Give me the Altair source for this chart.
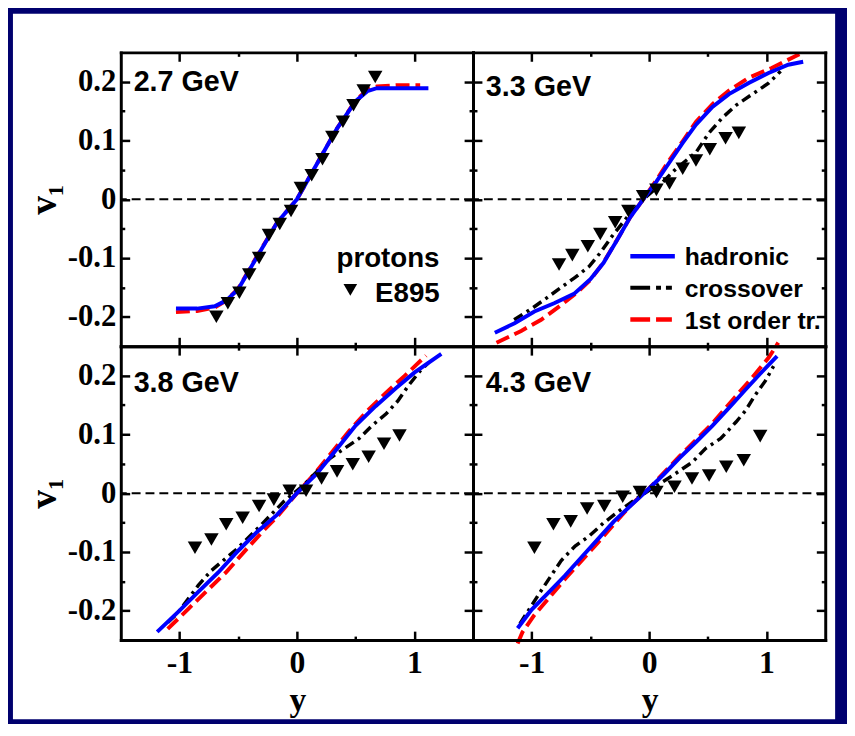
import altair as alt
import pandas as pd

X_DOMAIN = [-1.5, 1.5]
Y_DOMAIN = [-0.25, 0.25]
PANEL_LABELS = ["2.7 GeV", "3.3 GeV", "3.8 GeV", "4.3 GeV"]
MODEL_NAMES = ["hadronic", "crossover", "1st order tr."]
DATA_NAMES = ["protons", "E895"]
X_TITLE = "y"
Y_TITLE = "v₁"
Y_TICKS = [-0.2, -0.1, 0.0, 0.1, 0.2]
Y_MINOR = [-0.15, -0.05, 0.05, 0.15]
X_TICKS = [-1, 0, 1]
X_MINOR = [-0.5, 0.5]

# ---- 2.7 GeV ----
had27_y = [-1.03, -0.85, -0.70, -0.60, -0.50, -0.34, -0.17, 0.0, 0.17, 0.34, 0.50, 0.60, 0.68, 0.85, 1.12]
had27_v = [-0.186, -0.186, -0.182, -0.172, -0.153, -0.098, -0.040, 0.0, 0.060, 0.120, 0.167, 0.184, 0.189, 0.189, 0.189]
fo27_y = [-1.03, -0.85, -0.70, -0.60, -0.50, -0.34, -0.17, 0.0, 0.17, 0.34, 0.50, 0.60, 0.68, 0.85, 1.05]
fo27_v = [-0.192, -0.190, -0.184, -0.172, -0.152, -0.097, -0.040, 0.0, 0.060, 0.120, 0.168, 0.186, 0.192, 0.194, 0.194]
e27_y = [-0.686, -0.588, -0.490, -0.406, -0.322, -0.238, -0.146, -0.050, 0.034, 0.126, 0.218, 0.302, 0.392, 0.482, 0.569, 0.667]
e27_v = [-0.200, -0.177, -0.159, -0.128, -0.100, -0.061, -0.042, -0.020, 0.019, 0.041, 0.068, 0.106, 0.132, 0.160, 0.185, 0.208]

# ---- 3.3 GeV ----
had33_y = [-1.314, -1.146, -0.977, -0.809, -0.640, -0.500, -0.388, -0.275, -0.163, -0.051, 0.062, 0.174, 0.286, 0.399, 0.539, 0.680, 0.848, 1.017, 1.185, 1.312]
had33_v = [-0.227, -0.211, -0.191, -0.177, -0.161, -0.136, -0.108, -0.070, -0.031, 0.000, 0.030, 0.063, 0.096, 0.127, 0.157, 0.179, 0.198, 0.215, 0.229, 0.234]
fo33_y = [-1.30, -1.09, -0.92, -0.75, -0.61, -0.50, -0.39, -0.27, -0.16, -0.05, 0.06, 0.17, 0.29, 0.40, 0.54, 0.68, 0.85, 1.04, 1.24, 1.28]
fo33_v = [-0.244, -0.224, -0.205, -0.180, -0.158, -0.137, -0.108, -0.068, -0.030, 0.0, 0.032, 0.066, 0.100, 0.132, 0.162, 0.185, 0.207, 0.223, 0.243, 0.247]
xo33_y = [-1.15, -1.00, -0.88, -0.75, -0.63, -0.51, -0.42, -0.32, -0.19, -0.05, 0.09, 0.23, 0.40, 0.51, 0.62, 0.74, 0.88, 1.02, 1.12]
xo33_v = [-0.205, -0.186, -0.169, -0.150, -0.133, -0.114, -0.092, -0.064, -0.031, 0.0, 0.024, 0.052, 0.080, 0.113, 0.138, 0.160, 0.179, 0.198, 0.218]
e33_y = [-0.767, -0.654, -0.522, -0.416, -0.289, -0.177, -0.051, 0.062, 0.174, 0.286, 0.399, 0.517, 0.651, 0.764]
e33_v = [-0.111, -0.095, -0.080, -0.059, -0.039, -0.020, 0.005, 0.016, 0.027, 0.052, 0.066, 0.085, 0.104, 0.113]

# ---- 3.8 GeV ----
had38_y = [-1.19, -1.00, -0.84, -0.67, -0.50, -0.34, -0.17, 0.0, 0.17, 0.34, 0.50, 0.67, 0.84, 1.00, 1.23]
had38_v = [-0.236, -0.200, -0.168, -0.135, -0.098, -0.066, -0.037, 0.0, 0.033, 0.075, 0.115, 0.148, 0.178, 0.205, 0.237]
fo38_y = [-1.10, -0.92, -0.76, -0.60, -0.45, -0.30, -0.15, 0.0, 0.15, 0.30, 0.45, 0.60, 0.76, 0.92, 1.10]
fo38_v = [-0.231, -0.196, -0.165, -0.134, -0.100, -0.067, -0.036, 0.0, 0.033, 0.070, 0.107, 0.140, 0.171, 0.200, 0.234]
xo38_y = [-1.10, -1.02, -0.84, -0.73, -0.50, -0.29, -0.11, 0.06, 0.28, 0.53, 0.64, 0.76, 0.86, 0.95, 1.05, 1.12]
xo38_v = [-0.220, -0.205, -0.157, -0.132, -0.093, -0.051, -0.014, 0.014, 0.059, 0.093, 0.115, 0.135, 0.157, 0.183, 0.208, 0.222]
e38_y = [-0.868, -0.728, -0.602, -0.462, -0.322, -0.196, -0.062, 0.078, 0.210, 0.342, 0.476, 0.611, 0.742, 0.874]
e38_v = [-0.093, -0.079, -0.053, -0.042, -0.022, -0.011, 0.004, 0.004, 0.025, 0.037, 0.049, 0.062, 0.084, 0.098]

# ---- 4.3 GeV ----
had43_y = [-1.12, -1.00, -0.87, -0.72, -0.58, -0.44, -0.30, -0.15, 0.0, 0.13, 0.26, 0.40, 0.54, 0.68, 0.82, 0.95, 1.09]
had43_v = [-0.230, -0.198, -0.172, -0.141, -0.110, -0.079, -0.048, -0.020, 0.008, 0.033, 0.060, 0.087, 0.115, 0.145, 0.176, 0.204, 0.233]
fo43_y = [-1.12, -1.08, -0.98, -0.72, -0.44, -0.16, 0.0, 0.26, 0.54, 0.70, 0.88, 1.02, 1.10]
fo43_v = [-0.256, -0.237, -0.208, -0.147, -0.085, -0.021, 0.008, 0.063, 0.119, 0.156, 0.197, 0.231, 0.256]
xo43_y = [-1.10, -0.92, -0.75, -0.63, -0.51, -0.39, -0.26, -0.10, 0.05, 0.20, 0.37, 0.48, 0.61, 0.74, 0.82, 0.90, 0.99, 1.06]
xo43_v = [-0.222, -0.166, -0.115, -0.090, -0.073, -0.051, -0.031, -0.008, 0.011, 0.030, 0.053, 0.076, 0.093, 0.121, 0.140, 0.166, 0.191, 0.216]
e43_y = [-0.977, -0.815, -0.668, -0.528, -0.382, -0.225, -0.079, 0.062, 0.216, 0.365, 0.511, 0.657, 0.806, 0.946]
e43_v = [-0.093, -0.053, -0.048, -0.026, -0.022, -0.006, 0.002, 0.002, 0.011, 0.025, 0.030, 0.045, 0.056, 0.097]

W, H = 356, 297
BLUE, RED = "#0000ff", "#ff0000"
NAVY = "#00006e"
SERIF, SANS = "Liberation Serif", "Liberation Sans"


def xs():
    return alt.Scale(domain=X_DOMAIN, nice=False, zero=False)


def ys():
    return alt.Scale(domain=Y_DOMAIN, nice=False, zero=False)


def make_axis(orient, values, tick, labels=False, title=None, kind="x"):
    kw = dict(orient=orient, values=values, tickSize=tick, offset=-tick, labels=labels,
              domain=False, grid=False, tickWidth=2.5, tickColor="black", title=title, zindex=1)
    if labels:
        if kind == "x":
            kw.update(labelExpr="(datum.value < 0 ? '-' : '') + format(abs(datum.value), 'd')",
                      labelFontSize=32, labelPadding=8)
        else:
            kw.update(labelExpr="datum.value == 0 ? '0' : (datum.value < 0 ? '-' : '') + format(abs(datum.value), '.1f')",
                      labelFontSize=31, labelPadding=5)
    if title is not None:
        kw.update(titleFontSize=38, titlePadding=4)
    return alt.Axis(**kw)


def frame_axis(orient):
    return alt.Axis(orient=orient, ticks=False, labels=False, domain=True, domainWidth=3,
                    domainColor="black", domainCap="square", grid=False, title=None, zindex=1)


def carrier(ax_x, ax_y):
    return alt.Chart(pd.DataFrame({"cx": [0.0], "cy": [0.0]})).mark_point(opacity=0).encode(
        x=alt.X("cx:Q", scale=xs(), axis=ax_x),
        y=alt.Y("cy:Q", scale=ys(), axis=ax_y),
    )


def curve(xv, yv, color, width, dash=None):
    kw = dict(color=color, strokeWidth=width)
    if dash:
        kw["strokeDash"] = dash
    return alt.Chart(pd.DataFrame({"y": xv, "v1": yv})).mark_line(**kw).encode(
        x=alt.X("y:Q", scale=xs(), axis=None),
        y=alt.Y("v1:Q", scale=ys(), axis=None),
    )


def points(xv, yv):
    return alt.Chart(pd.DataFrame({"y": xv, "v1": yv})).mark_point(
        shape="triangle-down", filled=True, color="black", opacity=1, size=215).encode(
        x=alt.X("y:Q", scale=xs(), axis=None),
        y=alt.Y("v1:Q", scale=ys(), axis=None),
    )


def zero_line():
    return alt.Chart(pd.DataFrame({"z": [0.0]})).mark_rule(
        color="black", strokeWidth=2, strokeDash=[9, 5]).encode(
        y=alt.Y("z:Q", scale=ys(), axis=None))


def text(txt, x, y, size=25, font=SANS, align="left"):
    return alt.Chart(pd.DataFrame({"t": [txt]})).mark_text(
        font=font, fontWeight="bold", fontSize=size, align=align, baseline="alphabetic",
        color="black").encode(text="t:N", x=alt.value(x), y=alt.value(y))


def legend_line(x1, x2, y, color, width, dash=None):
    kw = dict(color=color, strokeWidth=width)
    if dash:
        kw["strokeDash"] = dash
    return alt.Chart(pd.DataFrame({"k": [0]})).mark_rule(**kw).encode(
        x=alt.value(x1), x2=alt.value(x2), y=alt.value(y))


def page_sheet():
    # white slide area behind the figure (the slide frame around it is navy)
    return alt.Chart(pd.DataFrame({"k": [0]})).mark_rect(color="white").encode(
        x=alt.value(-109), x2=alt.value(722), y=alt.value(-39), y2=alt.value(674))


def panel(idx, had, fo, xo, e, left, bottom, label_y):
    layers = []
    if idx == 0:
        layers.append(page_sheet())
    layers += [
        carrier(make_axis("bottom", X_TICKS, 9, labels=bottom),
                make_axis("left", Y_TICKS, 9, labels=left, title=Y_TITLE if left else None, kind="y")),
        carrier(make_axis("top", X_TICKS, 9), make_axis("right", Y_TICKS, 9, kind="y")),
        carrier(make_axis("bottom", X_MINOR, 4), make_axis("left", Y_MINOR, 4, kind="y")),
        carrier(make_axis("top", X_MINOR, 4), make_axis("right", Y_MINOR, 4, kind="y")),
        carrier(frame_axis("bottom"), frame_axis("left")),
        carrier(frame_axis("top"), frame_axis("right")),
        zero_line(),
        curve(fo[0], fo[1], RED, 4, [14, 6]),
    ]
    if xo is not None:
        layers.append(curve(xo[0], xo[1], "black", 3.5, [10, 5, 3, 5]))
    layers.append(curve(had[0], had[1], BLUE, 4))
    layers.append(points(e[0], e[1]))
    layers.append(text(PANEL_LABELS[idx], 13, label_y, 29))
    if bottom:
        layers.append(text(X_TITLE, 179, 369, 34, font=SERIF, align="center"))
    if idx == 0:
        layers.append(text(DATA_NAMES[0], 218, 217, 28))
        layers.append(text(DATA_NAMES[1], 257, 252, 28))
        layers.append(alt.Chart(pd.DataFrame({"k": [0]})).mark_point(
            shape="triangle-down", filled=True, color="black", opacity=1, size=190).encode(
            x=alt.value(232), y=alt.value(240)))
    if idx == 1:
        layers.append(legend_line(159, 204, 206, BLUE, 4.5))
        layers.append(legend_line(159, 204, 238, "black", 4, [20, 6, 5, 5, 6, 10]))
        layers.append(legend_line(159, 204, 270, RED, 4.5, [20, 6, 16, 10]))
        layers.append(text(MODEL_NAMES[0], 214, 215, 25))
        layers.append(text(MODEL_NAMES[1], 214, 247, 25))
        layers.append(text(MODEL_NAMES[2], 214, 280, 25))
    return alt.layer(*layers).properties(width=W, height=H).resolve_axis(
        x="independent", y="independent")


p1 = panel(0, (had27_y, had27_v), (fo27_y, fo27_v), None, (e27_y, e27_v), True, False, 39)
p2 = panel(1, (had33_y, had33_v), (fo33_y, fo33_v), (xo33_y, xo33_v), (e33_y, e33_v), False, False, 44)
p3 = panel(2, (had38_y, had38_v), (fo38_y, fo38_v), (xo38_y, xo38_v), (e38_y, e38_v), True, True, 46)
p4 = panel(3, (had43_y, had43_v), (fo43_y, fo43_v), (xo43_y, xo43_v), (e43_y, e43_v), False, True, 46)

chart = alt.concat(
    p1, p2, p3, p4, columns=2, spacing=0, bounds="flush",
).properties(
    padding={"left": 4, "top": 1, "right": 11, "bottom": 0},
).configure(
    background=NAVY,
).configure_view(
    stroke="transparent",
).configure_axis(
    labelFont=SERIF, labelFontWeight="bold", labelColor="black",
    titleFont=SERIF, titleFontWeight="bold", titleColor="black",
    labelOverlap=False,
)

chart.save("out.html", embed_options={"renderer": "svg", "actions": False})
